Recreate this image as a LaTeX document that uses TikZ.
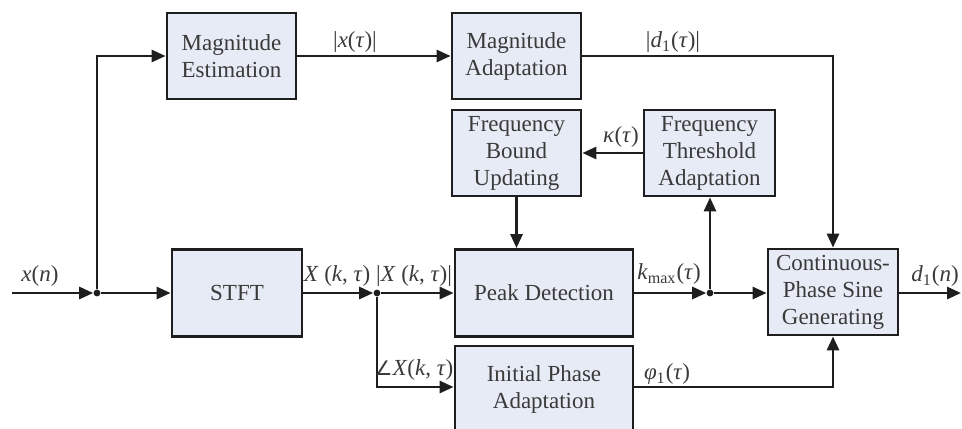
\documentclass[tikz,border=0pt]{standalone}
\usepackage{fontspec}
\setmainfont{Liberation Serif}
\newfontfamily\symfnt{DejaVu Sans}
\usetikzlibrary{arrows.meta}
\definecolor{boxfill}{HTML}{E6EBF5}
\definecolor{ink}{HTML}{1E1E1E}
\definecolor{txt}{HTML}{3A3A3A}
\newcommand{\vi}[1]{\textit{#1}}
\begin{document}
\begin{tikzpicture}[x=0.5pt,y=-0.5pt,
  blk/.style={draw=ink,fill=boxfill,line width=1.4pt,align=center,
    text=txt,font=\fontsize{11.5}{13.5}\selectfont,inner sep=0pt},
  sig/.style={draw=ink,line width=1.4pt,-{Triangle[length=7pt,width=6pt]}},
  lbl/.style={text=txt,font=\fontsize{11.5}{13}\selectfont,inner sep=0pt},
  dot/.style={circle,fill=ink,inner sep=0pt,minimum size=3.4pt}]
\useasboundingbox (0,0) rectangle (962,428);
\clip (0,0) rectangle (962,428);

% processing blocks
\node[blk,minimum width=64.5pt,minimum height=43pt] (me) at (231.5,56) {Magnitude\\Estimation};
\node[blk,minimum width=64.5pt,minimum height=43pt] (ma) at (516.5,56) {Magnitude\\Adaptation};
\node[blk,minimum width=64.5pt,minimum height=43pt] (fbu) at (516.5,153) {Frequency\\Bound\\Updating};
\node[blk,minimum width=65.5pt,minimum height=43pt] (fta) at (709.5,153) {Frequency\\Threshold\\Adaptation};
\node[blk,minimum width=65pt,minimum height=43.5pt] (stft) at (237,293) {STFT};
\node[blk,minimum width=89pt,minimum height=43.5pt] (pd) at (544,293) {Peak Detection};
\node[blk,minimum width=89pt,minimum height=43pt] (ipa) at (544,389) {Initial Phase\\Adaptation};
\node[blk,minimum width=65pt,minimum height=43pt] (cpsg) at (833,292) {Continuous-\\Phase Sine\\Generating};

% branch points and free ends
\coordinate (in) at (12,293);
\coordinate (out) at (961,293);
\node[dot] (j1) at (97,293) {};
\node[dot] (j2) at (377,293) {};
\node[dot] (j3) at (710,293) {};

% connectors
\draw[sig] (in) -- (j1);
\draw[sig] (j1) -- (stft.west |- j1);
\draw[sig] (j1) |- (me.west);
\draw[sig] (me.east) -- (ma.west);
\draw[sig] (ma.east) -| (cpsg.north);
\draw[sig] (stft.east |- j2) -- (j2);
\draw[sig] (j2) -- (pd.west |- j2);
\draw[sig] (j2) |- ([yshift=1pt]ipa.west);
\draw[sig] (fta.west) -- (fbu.east);
\draw[sig] (fbu.south) -- (fbu.south |- pd.north);
\draw[sig] (pd.east |- j3) -- (j3);
\draw[sig] (j3) -- (fta.south -| j3);
\draw[sig] (j3) -- (cpsg.west |- j3);
\draw[sig] ([yshift=1pt]ipa.east) -| (cpsg.south);
\draw[sig] (cpsg.east |- out) -- (out);

% signal labels
\node[lbl] (lx) at (40,276) {\vi{x}(\vi{n})};
\node[lbl] (lmag) at (355,42) {|\vi{x}(\vi{τ})|};
\node[lbl] (ld) at (673,42) {|\vi{d}\textsubscript{1}(\vi{τ})|};
\node[lbl] (lk) at (621,137) {\vi{κ}(\vi{τ})};
\node[lbl] (lX) at (337,276) {\vi{X} (\vi{k}, \vi{τ})};
\node[lbl] (lXa) at (414,276) {|\vi{X} (\vi{k}, \vi{τ})|};
\node[lbl] (lXp) at (414,370) {{\symfnt\fontsize{10}{12}\selectfont ∠}\vi{X}(\vi{k}, \vi{τ})};
\node[lbl] (lkm) at (669,274) {\vi{k}\textsubscript{max}(\vi{τ})};
\node[lbl] (lphi) at (667,374) {\vi{φ}\textsubscript{1}(\vi{τ})};
\node[lbl] (ld1) at (935,276) {\vi{d}\textsubscript{1}(\vi{n})};
\end{tikzpicture}
\end{document}
